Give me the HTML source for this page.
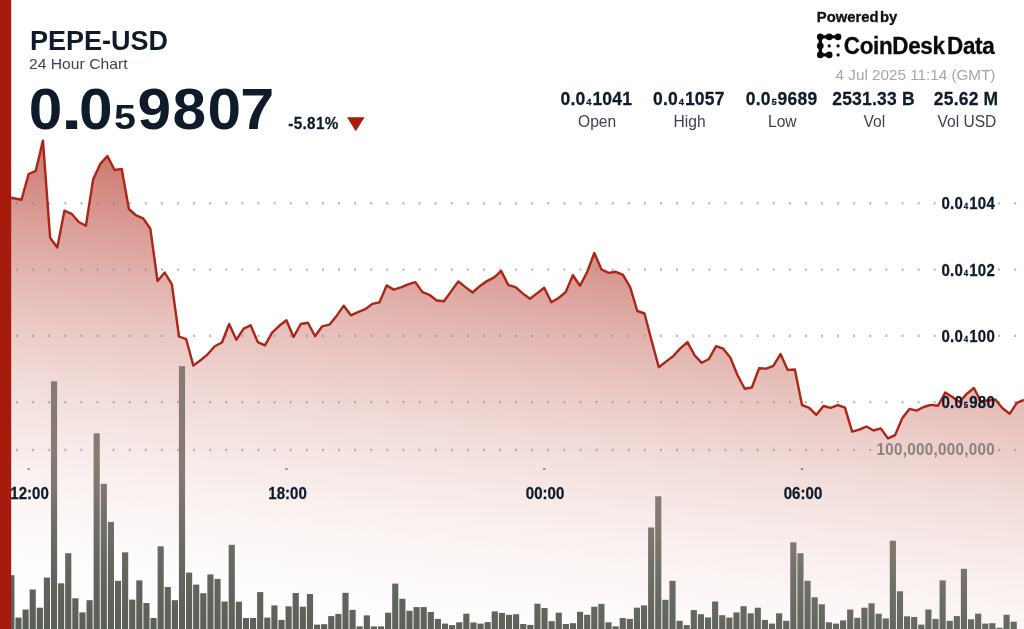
<!DOCTYPE html>
<html><head><meta charset="utf-8">
<style>
html,body{margin:0;padding:0;background:#fff;}
body{width:1024px;height:629px;overflow:hidden;position:relative;font-family:"Liberation Sans",sans-serif;color:#0f1b2b;}
.t{position:absolute;white-space:nowrap;line-height:1;}
.b{font-weight:bold;}
svg{position:absolute;left:0;top:0;}
.c{transform:translateX(-50%);text-align:center;}
.r{transform:translateX(-100%);text-align:right;}
sub{font-size:0.5em;vertical-align:baseline;position:relative;top:0;line-height:0;}
</style></head><body>
<svg width="1024" height="629" viewBox="0 0 1024 629">
<defs>
<linearGradient id="ag" gradientUnits="userSpaceOnUse" x1="0" y1="140" x2="-56.9" y2="622.3">
<stop offset="0" stop-color="#a81c0c" stop-opacity="0.6"/>
<stop offset="1" stop-color="#ffffff" stop-opacity="0"/>
</linearGradient>
<linearGradient id="bg" gradientUnits="userSpaceOnUse" x1="0" y1="360" x2="-22.4" y2="627.1">
<stop offset="0" stop-color="rgb(137,121,116)"/>
<stop offset="0.335" stop-color="rgb(134,122,116)"/>
<stop offset="0.446" stop-color="rgb(127,118,112)"/>
<stop offset="0.558" stop-color="rgb(113,111,105)"/>
<stop offset="0.706" stop-color="rgb(101,103,97)"/>
<stop offset="0.855" stop-color="rgb(94,98,91)"/>
<stop offset="1" stop-color="rgb(89,94,86)"/>
</linearGradient>
</defs>
<path d="M11.00,197.80 L21.48,199.70 L28.64,174.00 L35.80,170.80 L42.96,140.60 L50.12,237.70 L57.28,247.50 L64.44,210.70 L71.60,213.80 L78.77,222.00 L85.93,225.80 L93.09,179.60 L100.25,163.90 L107.41,156.00 L114.57,170.00 L121.73,169.00 L128.89,209.00 L136.05,215.30 L143.21,218.40 L150.37,228.80 L157.53,281.00 L164.70,272.50 L171.86,284.30 L179.02,336.50 L186.18,339.20 L193.34,365.60 L200.50,360.30 L207.66,354.30 L214.82,346.30 L221.98,342.50 L229.14,324.00 L236.30,339.80 L243.46,328.90 L250.62,325.20 L257.79,342.10 L264.95,345.30 L272.11,332.70 L279.27,325.80 L286.43,320.20 L293.59,337.00 L300.75,324.00 L307.91,322.80 L315.07,336.30 L322.23,326.30 L329.39,324.70 L336.55,315.90 L343.72,305.80 L350.88,315.30 L358.04,312.10 L365.20,309.20 L372.36,303.90 L379.52,302.30 L386.68,285.40 L393.84,289.70 L401.00,287.40 L408.16,284.30 L415.32,282.10 L422.48,292.10 L429.64,295.00 L436.81,300.50 L443.97,301.30 L451.13,291.40 L458.29,281.40 L465.45,287.10 L472.61,292.50 L479.77,286.20 L486.93,281.10 L494.09,277.40 L501.25,271.00 L508.41,285.20 L515.57,287.10 L522.74,293.40 L529.90,298.80 L537.06,293.40 L544.22,287.70 L551.38,302.30 L558.54,298.00 L565.70,292.10 L572.86,275.20 L580.02,285.70 L587.18,272.00 L594.34,253.00 L601.50,269.50 L608.66,272.90 L615.83,271.80 L622.99,274.90 L630.15,287.10 L637.31,311.00 L644.47,313.50 L651.63,340.70 L658.79,367.20 L665.95,361.60 L673.11,356.30 L680.27,348.40 L687.43,342.10 L694.59,355.30 L701.76,362.80 L708.92,359.00 L716.08,346.20 L723.24,348.70 L730.40,357.70 L737.56,375.20 L744.72,388.70 L751.88,387.50 L759.04,368.30 L766.20,368.60 L773.36,365.80 L780.52,354.00 L787.68,369.90 L794.85,369.50 L802.01,405.10 L809.17,407.80 L816.33,414.80 L823.49,406.00 L830.65,407.80 L837.81,405.10 L844.97,407.70 L852.13,431.60 L859.29,429.60 L866.45,426.50 L873.61,430.50 L880.78,428.40 L887.94,438.40 L895.10,435.10 L902.26,418.30 L909.42,408.90 L916.58,410.60 L923.74,407.00 L930.90,404.90 L938.06,405.80 L945.22,392.50 L952.38,397.00 L959.54,402.00 L966.70,393.90 L973.87,388.00 L981.03,401.50 L988.19,400.50 L995.35,399.50 L1002.51,408.30 L1009.67,413.80 L1016.83,402.90 L1024.00,399.90 L1024,629 L11,629 Z" fill="url(#ag)"/>
<g fill="url(#bg)"><rect x="8.31" y="575.2" width="6.15" height="54.8"/><rect x="15.42" y="617.6" width="6.15" height="12.4"/><rect x="22.53" y="609.5" width="6.15" height="20.5"/><rect x="29.63" y="589.5" width="6.15" height="40.5"/><rect x="36.74" y="607.7" width="6.15" height="22.3"/><rect x="43.85" y="577.6" width="6.15" height="52.4"/><rect x="50.96" y="381.3" width="6.15" height="248.7"/><rect x="58.07" y="583.3" width="6.15" height="46.7"/><rect x="65.18" y="553.2" width="6.15" height="76.8"/><rect x="72.29" y="598.3" width="6.15" height="31.7"/><rect x="79.40" y="612.4" width="6.15" height="17.6"/><rect x="86.50" y="600.2" width="6.15" height="29.8"/><rect x="93.61" y="433.3" width="6.15" height="196.7"/><rect x="100.72" y="483.8" width="6.15" height="146.2"/><rect x="107.83" y="521.9" width="6.15" height="108.1"/><rect x="114.94" y="580.8" width="6.15" height="49.2"/><rect x="122.05" y="552.3" width="6.15" height="77.7"/><rect x="129.16" y="599.6" width="6.15" height="30.4"/><rect x="136.27" y="580.4" width="6.15" height="49.6"/><rect x="143.37" y="603.0" width="6.15" height="27.0"/><rect x="150.48" y="618.0" width="6.15" height="12.0"/><rect x="157.59" y="546.3" width="6.15" height="83.7"/><rect x="164.70" y="587.0" width="6.15" height="43.0"/><rect x="171.81" y="600.2" width="6.15" height="29.8"/><rect x="178.92" y="366.2" width="6.15" height="263.8"/><rect x="186.03" y="572.6" width="6.15" height="57.4"/><rect x="193.13" y="584.6" width="6.15" height="45.4"/><rect x="200.24" y="593.2" width="6.15" height="36.8"/><rect x="207.35" y="574.4" width="6.15" height="55.6"/><rect x="214.46" y="578.9" width="6.15" height="51.1"/><rect x="221.57" y="601.5" width="6.15" height="28.5"/><rect x="228.68" y="544.8" width="6.15" height="85.2"/><rect x="235.79" y="601.7" width="6.15" height="28.3"/><rect x="242.90" y="618.0" width="6.15" height="12.0"/><rect x="250.00" y="618.0" width="6.15" height="12.0"/><rect x="257.11" y="592.1" width="6.15" height="37.9"/><rect x="264.22" y="617.6" width="6.15" height="12.4"/><rect x="271.33" y="605.4" width="6.15" height="24.6"/><rect x="278.44" y="619.9" width="6.15" height="10.1"/><rect x="285.55" y="606.3" width="6.15" height="23.7"/><rect x="292.66" y="593.0" width="6.15" height="37.0"/><rect x="299.77" y="606.7" width="6.15" height="23.3"/><rect x="306.87" y="594.0" width="6.15" height="36.0"/><rect x="313.98" y="624.6" width="6.15" height="5.4"/><rect x="321.09" y="624.2" width="6.15" height="5.8"/><rect x="328.20" y="616.1" width="6.15" height="13.9"/><rect x="335.31" y="613.9" width="6.15" height="16.1"/><rect x="342.42" y="592.8" width="6.15" height="37.2"/><rect x="349.53" y="609.9" width="6.15" height="20.1"/><rect x="356.63" y="626.4" width="6.15" height="3.6"/><rect x="363.74" y="615.4" width="6.15" height="14.6"/><rect x="370.85" y="626.4" width="6.15" height="3.6"/><rect x="377.96" y="626.4" width="6.15" height="3.6"/><rect x="385.07" y="612.7" width="6.15" height="17.3"/><rect x="392.18" y="583.6" width="6.15" height="46.4"/><rect x="399.29" y="598.8" width="6.15" height="31.2"/><rect x="406.40" y="610.8" width="6.15" height="19.2"/><rect x="413.50" y="607.1" width="6.15" height="22.9"/><rect x="420.61" y="607.1" width="6.15" height="22.9"/><rect x="427.72" y="612.0" width="6.15" height="18.0"/><rect x="434.83" y="618.9" width="6.15" height="11.1"/><rect x="441.94" y="623.6" width="6.15" height="6.4"/><rect x="449.05" y="625.1" width="6.15" height="4.9"/><rect x="456.16" y="622.3" width="6.15" height="7.7"/><rect x="463.27" y="613.7" width="6.15" height="16.3"/><rect x="470.37" y="622.5" width="6.15" height="7.5"/><rect x="477.48" y="623.6" width="6.15" height="6.4"/><rect x="484.59" y="622.1" width="6.15" height="7.9"/><rect x="491.70" y="611.4" width="6.15" height="18.6"/><rect x="498.81" y="612.9" width="6.15" height="17.1"/><rect x="505.92" y="614.8" width="6.15" height="15.2"/><rect x="513.03" y="614.2" width="6.15" height="15.8"/><rect x="520.14" y="624.0" width="6.15" height="6.0"/><rect x="527.24" y="624.9" width="6.15" height="5.1"/><rect x="534.35" y="603.7" width="6.15" height="26.3"/><rect x="541.46" y="608.0" width="6.15" height="22.0"/><rect x="548.57" y="621.2" width="6.15" height="8.8"/><rect x="555.68" y="612.7" width="6.15" height="17.3"/><rect x="562.79" y="624.0" width="6.15" height="6.0"/><rect x="569.90" y="623.2" width="6.15" height="6.8"/><rect x="577.00" y="611.8" width="6.15" height="18.2"/><rect x="584.11" y="614.8" width="6.15" height="15.2"/><rect x="591.22" y="606.7" width="6.15" height="23.3"/><rect x="598.33" y="603.9" width="6.15" height="26.1"/><rect x="605.44" y="622.3" width="6.15" height="7.7"/><rect x="612.55" y="626.4" width="6.15" height="3.6"/><rect x="619.66" y="618.0" width="6.15" height="12.0"/><rect x="626.77" y="618.9" width="6.15" height="11.1"/><rect x="633.87" y="607.7" width="6.15" height="22.3"/><rect x="640.98" y="605.4" width="6.15" height="24.6"/><rect x="648.09" y="527.5" width="6.15" height="102.5"/><rect x="655.20" y="496.3" width="6.15" height="133.7"/><rect x="662.31" y="599.8" width="6.15" height="30.2"/><rect x="669.42" y="580.8" width="6.15" height="49.2"/><rect x="676.53" y="620.8" width="6.15" height="9.2"/><rect x="683.64" y="625.1" width="6.15" height="4.9"/><rect x="690.74" y="610.1" width="6.15" height="19.9"/><rect x="697.85" y="614.2" width="6.15" height="15.8"/><rect x="704.96" y="617.4" width="6.15" height="12.6"/><rect x="712.07" y="601.5" width="6.15" height="28.5"/><rect x="719.18" y="615.2" width="6.15" height="14.8"/><rect x="726.29" y="617.6" width="6.15" height="12.4"/><rect x="733.40" y="612.4" width="6.15" height="17.6"/><rect x="740.50" y="606.2" width="6.15" height="23.8"/><rect x="747.61" y="613.3" width="6.15" height="16.7"/><rect x="754.72" y="607.7" width="6.15" height="22.3"/><rect x="761.83" y="619.9" width="6.15" height="10.1"/><rect x="768.94" y="623.6" width="6.15" height="6.4"/><rect x="776.05" y="613.3" width="6.15" height="16.7"/><rect x="783.16" y="620.8" width="6.15" height="9.2"/><rect x="790.27" y="542.3" width="6.15" height="87.7"/><rect x="797.37" y="553.2" width="6.15" height="76.8"/><rect x="804.48" y="580.8" width="6.15" height="49.2"/><rect x="811.59" y="597.3" width="6.15" height="32.7"/><rect x="818.70" y="604.3" width="6.15" height="25.7"/><rect x="825.81" y="622.3" width="6.15" height="7.7"/><rect x="832.92" y="623.6" width="6.15" height="6.4"/><rect x="840.03" y="620.4" width="6.15" height="9.6"/><rect x="847.14" y="609.5" width="6.15" height="20.5"/><rect x="854.24" y="617.8" width="6.15" height="12.2"/><rect x="861.35" y="607.7" width="6.15" height="22.3"/><rect x="868.46" y="603.3" width="6.15" height="26.7"/><rect x="875.57" y="613.7" width="6.15" height="16.3"/><rect x="882.68" y="618.4" width="6.15" height="11.6"/><rect x="889.79" y="540.7" width="6.15" height="89.3"/><rect x="896.90" y="591.3" width="6.15" height="38.7"/><rect x="904.00" y="616.3" width="6.15" height="13.7"/><rect x="911.11" y="617.0" width="6.15" height="13.0"/><rect x="918.22" y="624.6" width="6.15" height="5.4"/><rect x="925.33" y="609.5" width="6.15" height="20.5"/><rect x="932.44" y="618.9" width="6.15" height="11.1"/><rect x="939.55" y="580.4" width="6.15" height="49.6"/><rect x="946.66" y="620.8" width="6.15" height="9.2"/><rect x="953.77" y="616.1" width="6.15" height="13.9"/><rect x="960.87" y="568.8" width="6.15" height="61.2"/><rect x="967.98" y="619.3" width="6.15" height="10.7"/><rect x="975.09" y="613.7" width="6.15" height="16.3"/><rect x="982.20" y="623.6" width="6.15" height="6.4"/><rect x="989.31" y="623.2" width="6.15" height="6.8"/><rect x="996.42" y="627.7" width="6.15" height="2.3"/><rect x="1003.53" y="614.8" width="6.15" height="15.2"/><rect x="1010.64" y="621.7" width="6.15" height="8.3"/></g>
<g fill="#8a8a8a" fill-opacity="0.62"><rect x="16.05" y="202.10" width="1.9" height="2.4"/><rect x="32.15" y="202.10" width="1.9" height="2.4"/><rect x="48.25" y="202.10" width="1.9" height="2.4"/><rect x="64.35" y="202.10" width="1.9" height="2.4"/><rect x="80.45" y="202.10" width="1.9" height="2.4"/><rect x="96.55" y="202.10" width="1.9" height="2.4"/><rect x="112.65" y="202.10" width="1.9" height="2.4"/><rect x="128.75" y="202.10" width="1.9" height="2.4"/><rect x="144.85" y="202.10" width="1.9" height="2.4"/><rect x="160.95" y="202.10" width="1.9" height="2.4"/><rect x="177.05" y="202.10" width="1.9" height="2.4"/><rect x="193.15" y="202.10" width="1.9" height="2.4"/><rect x="209.25" y="202.10" width="1.9" height="2.4"/><rect x="225.35" y="202.10" width="1.9" height="2.4"/><rect x="241.45" y="202.10" width="1.9" height="2.4"/><rect x="257.55" y="202.10" width="1.9" height="2.4"/><rect x="273.65" y="202.10" width="1.9" height="2.4"/><rect x="289.75" y="202.10" width="1.9" height="2.4"/><rect x="305.85" y="202.10" width="1.9" height="2.4"/><rect x="321.95" y="202.10" width="1.9" height="2.4"/><rect x="338.05" y="202.10" width="1.9" height="2.4"/><rect x="354.15" y="202.10" width="1.9" height="2.4"/><rect x="370.25" y="202.10" width="1.9" height="2.4"/><rect x="386.35" y="202.10" width="1.9" height="2.4"/><rect x="402.45" y="202.10" width="1.9" height="2.4"/><rect x="418.55" y="202.10" width="1.9" height="2.4"/><rect x="434.65" y="202.10" width="1.9" height="2.4"/><rect x="450.75" y="202.10" width="1.9" height="2.4"/><rect x="466.85" y="202.10" width="1.9" height="2.4"/><rect x="482.95" y="202.10" width="1.9" height="2.4"/><rect x="499.05" y="202.10" width="1.9" height="2.4"/><rect x="515.15" y="202.10" width="1.9" height="2.4"/><rect x="531.25" y="202.10" width="1.9" height="2.4"/><rect x="547.35" y="202.10" width="1.9" height="2.4"/><rect x="563.45" y="202.10" width="1.9" height="2.4"/><rect x="579.55" y="202.10" width="1.9" height="2.4"/><rect x="595.65" y="202.10" width="1.9" height="2.4"/><rect x="611.75" y="202.10" width="1.9" height="2.4"/><rect x="627.85" y="202.10" width="1.9" height="2.4"/><rect x="643.95" y="202.10" width="1.9" height="2.4"/><rect x="660.05" y="202.10" width="1.9" height="2.4"/><rect x="676.15" y="202.10" width="1.9" height="2.4"/><rect x="692.25" y="202.10" width="1.9" height="2.4"/><rect x="708.35" y="202.10" width="1.9" height="2.4"/><rect x="724.45" y="202.10" width="1.9" height="2.4"/><rect x="740.55" y="202.10" width="1.9" height="2.4"/><rect x="756.65" y="202.10" width="1.9" height="2.4"/><rect x="772.75" y="202.10" width="1.9" height="2.4"/><rect x="788.85" y="202.10" width="1.9" height="2.4"/><rect x="804.95" y="202.10" width="1.9" height="2.4"/><rect x="821.05" y="202.10" width="1.9" height="2.4"/><rect x="837.15" y="202.10" width="1.9" height="2.4"/><rect x="853.25" y="202.10" width="1.9" height="2.4"/><rect x="869.35" y="202.10" width="1.9" height="2.4"/><rect x="885.45" y="202.10" width="1.9" height="2.4"/><rect x="901.55" y="202.10" width="1.9" height="2.4"/><rect x="917.65" y="202.10" width="1.9" height="2.4"/><rect x="933.75" y="202.10" width="1.9" height="2.4"/><rect x="998.15" y="202.10" width="1.9" height="2.4"/><rect x="1014.25" y="202.10" width="1.9" height="2.4"/><rect x="16.05" y="268.40" width="1.9" height="2.4"/><rect x="32.15" y="268.40" width="1.9" height="2.4"/><rect x="48.25" y="268.40" width="1.9" height="2.4"/><rect x="64.35" y="268.40" width="1.9" height="2.4"/><rect x="80.45" y="268.40" width="1.9" height="2.4"/><rect x="96.55" y="268.40" width="1.9" height="2.4"/><rect x="112.65" y="268.40" width="1.9" height="2.4"/><rect x="128.75" y="268.40" width="1.9" height="2.4"/><rect x="144.85" y="268.40" width="1.9" height="2.4"/><rect x="160.95" y="268.40" width="1.9" height="2.4"/><rect x="177.05" y="268.40" width="1.9" height="2.4"/><rect x="193.15" y="268.40" width="1.9" height="2.4"/><rect x="209.25" y="268.40" width="1.9" height="2.4"/><rect x="225.35" y="268.40" width="1.9" height="2.4"/><rect x="241.45" y="268.40" width="1.9" height="2.4"/><rect x="257.55" y="268.40" width="1.9" height="2.4"/><rect x="273.65" y="268.40" width="1.9" height="2.4"/><rect x="289.75" y="268.40" width="1.9" height="2.4"/><rect x="305.85" y="268.40" width="1.9" height="2.4"/><rect x="321.95" y="268.40" width="1.9" height="2.4"/><rect x="338.05" y="268.40" width="1.9" height="2.4"/><rect x="354.15" y="268.40" width="1.9" height="2.4"/><rect x="370.25" y="268.40" width="1.9" height="2.4"/><rect x="386.35" y="268.40" width="1.9" height="2.4"/><rect x="402.45" y="268.40" width="1.9" height="2.4"/><rect x="418.55" y="268.40" width="1.9" height="2.4"/><rect x="434.65" y="268.40" width="1.9" height="2.4"/><rect x="450.75" y="268.40" width="1.9" height="2.4"/><rect x="466.85" y="268.40" width="1.9" height="2.4"/><rect x="482.95" y="268.40" width="1.9" height="2.4"/><rect x="499.05" y="268.40" width="1.9" height="2.4"/><rect x="515.15" y="268.40" width="1.9" height="2.4"/><rect x="531.25" y="268.40" width="1.9" height="2.4"/><rect x="547.35" y="268.40" width="1.9" height="2.4"/><rect x="563.45" y="268.40" width="1.9" height="2.4"/><rect x="579.55" y="268.40" width="1.9" height="2.4"/><rect x="595.65" y="268.40" width="1.9" height="2.4"/><rect x="611.75" y="268.40" width="1.9" height="2.4"/><rect x="627.85" y="268.40" width="1.9" height="2.4"/><rect x="643.95" y="268.40" width="1.9" height="2.4"/><rect x="660.05" y="268.40" width="1.9" height="2.4"/><rect x="676.15" y="268.40" width="1.9" height="2.4"/><rect x="692.25" y="268.40" width="1.9" height="2.4"/><rect x="708.35" y="268.40" width="1.9" height="2.4"/><rect x="724.45" y="268.40" width="1.9" height="2.4"/><rect x="740.55" y="268.40" width="1.9" height="2.4"/><rect x="756.65" y="268.40" width="1.9" height="2.4"/><rect x="772.75" y="268.40" width="1.9" height="2.4"/><rect x="788.85" y="268.40" width="1.9" height="2.4"/><rect x="804.95" y="268.40" width="1.9" height="2.4"/><rect x="821.05" y="268.40" width="1.9" height="2.4"/><rect x="837.15" y="268.40" width="1.9" height="2.4"/><rect x="853.25" y="268.40" width="1.9" height="2.4"/><rect x="869.35" y="268.40" width="1.9" height="2.4"/><rect x="885.45" y="268.40" width="1.9" height="2.4"/><rect x="901.55" y="268.40" width="1.9" height="2.4"/><rect x="917.65" y="268.40" width="1.9" height="2.4"/><rect x="933.75" y="268.40" width="1.9" height="2.4"/><rect x="998.15" y="268.40" width="1.9" height="2.4"/><rect x="1014.25" y="268.40" width="1.9" height="2.4"/><rect x="16.05" y="334.70" width="1.9" height="2.4"/><rect x="32.15" y="334.70" width="1.9" height="2.4"/><rect x="48.25" y="334.70" width="1.9" height="2.4"/><rect x="64.35" y="334.70" width="1.9" height="2.4"/><rect x="80.45" y="334.70" width="1.9" height="2.4"/><rect x="96.55" y="334.70" width="1.9" height="2.4"/><rect x="112.65" y="334.70" width="1.9" height="2.4"/><rect x="128.75" y="334.70" width="1.9" height="2.4"/><rect x="144.85" y="334.70" width="1.9" height="2.4"/><rect x="160.95" y="334.70" width="1.9" height="2.4"/><rect x="177.05" y="334.70" width="1.9" height="2.4"/><rect x="193.15" y="334.70" width="1.9" height="2.4"/><rect x="209.25" y="334.70" width="1.9" height="2.4"/><rect x="225.35" y="334.70" width="1.9" height="2.4"/><rect x="241.45" y="334.70" width="1.9" height="2.4"/><rect x="257.55" y="334.70" width="1.9" height="2.4"/><rect x="273.65" y="334.70" width="1.9" height="2.4"/><rect x="289.75" y="334.70" width="1.9" height="2.4"/><rect x="305.85" y="334.70" width="1.9" height="2.4"/><rect x="321.95" y="334.70" width="1.9" height="2.4"/><rect x="338.05" y="334.70" width="1.9" height="2.4"/><rect x="354.15" y="334.70" width="1.9" height="2.4"/><rect x="370.25" y="334.70" width="1.9" height="2.4"/><rect x="386.35" y="334.70" width="1.9" height="2.4"/><rect x="402.45" y="334.70" width="1.9" height="2.4"/><rect x="418.55" y="334.70" width="1.9" height="2.4"/><rect x="434.65" y="334.70" width="1.9" height="2.4"/><rect x="450.75" y="334.70" width="1.9" height="2.4"/><rect x="466.85" y="334.70" width="1.9" height="2.4"/><rect x="482.95" y="334.70" width="1.9" height="2.4"/><rect x="499.05" y="334.70" width="1.9" height="2.4"/><rect x="515.15" y="334.70" width="1.9" height="2.4"/><rect x="531.25" y="334.70" width="1.9" height="2.4"/><rect x="547.35" y="334.70" width="1.9" height="2.4"/><rect x="563.45" y="334.70" width="1.9" height="2.4"/><rect x="579.55" y="334.70" width="1.9" height="2.4"/><rect x="595.65" y="334.70" width="1.9" height="2.4"/><rect x="611.75" y="334.70" width="1.9" height="2.4"/><rect x="627.85" y="334.70" width="1.9" height="2.4"/><rect x="643.95" y="334.70" width="1.9" height="2.4"/><rect x="660.05" y="334.70" width="1.9" height="2.4"/><rect x="676.15" y="334.70" width="1.9" height="2.4"/><rect x="692.25" y="334.70" width="1.9" height="2.4"/><rect x="708.35" y="334.70" width="1.9" height="2.4"/><rect x="724.45" y="334.70" width="1.9" height="2.4"/><rect x="740.55" y="334.70" width="1.9" height="2.4"/><rect x="756.65" y="334.70" width="1.9" height="2.4"/><rect x="772.75" y="334.70" width="1.9" height="2.4"/><rect x="788.85" y="334.70" width="1.9" height="2.4"/><rect x="804.95" y="334.70" width="1.9" height="2.4"/><rect x="821.05" y="334.70" width="1.9" height="2.4"/><rect x="837.15" y="334.70" width="1.9" height="2.4"/><rect x="853.25" y="334.70" width="1.9" height="2.4"/><rect x="869.35" y="334.70" width="1.9" height="2.4"/><rect x="885.45" y="334.70" width="1.9" height="2.4"/><rect x="901.55" y="334.70" width="1.9" height="2.4"/><rect x="917.65" y="334.70" width="1.9" height="2.4"/><rect x="933.75" y="334.70" width="1.9" height="2.4"/><rect x="998.15" y="334.70" width="1.9" height="2.4"/><rect x="1014.25" y="334.70" width="1.9" height="2.4"/><rect x="16.05" y="401.00" width="1.9" height="2.4"/><rect x="32.15" y="401.00" width="1.9" height="2.4"/><rect x="48.25" y="401.00" width="1.9" height="2.4"/><rect x="64.35" y="401.00" width="1.9" height="2.4"/><rect x="80.45" y="401.00" width="1.9" height="2.4"/><rect x="96.55" y="401.00" width="1.9" height="2.4"/><rect x="112.65" y="401.00" width="1.9" height="2.4"/><rect x="128.75" y="401.00" width="1.9" height="2.4"/><rect x="144.85" y="401.00" width="1.9" height="2.4"/><rect x="160.95" y="401.00" width="1.9" height="2.4"/><rect x="177.05" y="401.00" width="1.9" height="2.4"/><rect x="193.15" y="401.00" width="1.9" height="2.4"/><rect x="209.25" y="401.00" width="1.9" height="2.4"/><rect x="225.35" y="401.00" width="1.9" height="2.4"/><rect x="241.45" y="401.00" width="1.9" height="2.4"/><rect x="257.55" y="401.00" width="1.9" height="2.4"/><rect x="273.65" y="401.00" width="1.9" height="2.4"/><rect x="289.75" y="401.00" width="1.9" height="2.4"/><rect x="305.85" y="401.00" width="1.9" height="2.4"/><rect x="321.95" y="401.00" width="1.9" height="2.4"/><rect x="338.05" y="401.00" width="1.9" height="2.4"/><rect x="354.15" y="401.00" width="1.9" height="2.4"/><rect x="370.25" y="401.00" width="1.9" height="2.4"/><rect x="386.35" y="401.00" width="1.9" height="2.4"/><rect x="402.45" y="401.00" width="1.9" height="2.4"/><rect x="418.55" y="401.00" width="1.9" height="2.4"/><rect x="434.65" y="401.00" width="1.9" height="2.4"/><rect x="450.75" y="401.00" width="1.9" height="2.4"/><rect x="466.85" y="401.00" width="1.9" height="2.4"/><rect x="482.95" y="401.00" width="1.9" height="2.4"/><rect x="499.05" y="401.00" width="1.9" height="2.4"/><rect x="515.15" y="401.00" width="1.9" height="2.4"/><rect x="531.25" y="401.00" width="1.9" height="2.4"/><rect x="547.35" y="401.00" width="1.9" height="2.4"/><rect x="563.45" y="401.00" width="1.9" height="2.4"/><rect x="579.55" y="401.00" width="1.9" height="2.4"/><rect x="595.65" y="401.00" width="1.9" height="2.4"/><rect x="611.75" y="401.00" width="1.9" height="2.4"/><rect x="627.85" y="401.00" width="1.9" height="2.4"/><rect x="643.95" y="401.00" width="1.9" height="2.4"/><rect x="660.05" y="401.00" width="1.9" height="2.4"/><rect x="676.15" y="401.00" width="1.9" height="2.4"/><rect x="692.25" y="401.00" width="1.9" height="2.4"/><rect x="708.35" y="401.00" width="1.9" height="2.4"/><rect x="724.45" y="401.00" width="1.9" height="2.4"/><rect x="740.55" y="401.00" width="1.9" height="2.4"/><rect x="756.65" y="401.00" width="1.9" height="2.4"/><rect x="772.75" y="401.00" width="1.9" height="2.4"/><rect x="788.85" y="401.00" width="1.9" height="2.4"/><rect x="804.95" y="401.00" width="1.9" height="2.4"/><rect x="821.05" y="401.00" width="1.9" height="2.4"/><rect x="837.15" y="401.00" width="1.9" height="2.4"/><rect x="853.25" y="401.00" width="1.9" height="2.4"/><rect x="869.35" y="401.00" width="1.9" height="2.4"/><rect x="885.45" y="401.00" width="1.9" height="2.4"/><rect x="901.55" y="401.00" width="1.9" height="2.4"/><rect x="917.65" y="401.00" width="1.9" height="2.4"/><rect x="933.75" y="401.00" width="1.9" height="2.4"/><rect x="998.15" y="401.00" width="1.9" height="2.4"/><rect x="1014.25" y="401.00" width="1.9" height="2.4"/><rect x="16.05" y="448.80" width="1.9" height="2.4"/><rect x="32.15" y="448.80" width="1.9" height="2.4"/><rect x="48.25" y="448.80" width="1.9" height="2.4"/><rect x="64.35" y="448.80" width="1.9" height="2.4"/><rect x="80.45" y="448.80" width="1.9" height="2.4"/><rect x="96.55" y="448.80" width="1.9" height="2.4"/><rect x="112.65" y="448.80" width="1.9" height="2.4"/><rect x="128.75" y="448.80" width="1.9" height="2.4"/><rect x="144.85" y="448.80" width="1.9" height="2.4"/><rect x="160.95" y="448.80" width="1.9" height="2.4"/><rect x="177.05" y="448.80" width="1.9" height="2.4"/><rect x="193.15" y="448.80" width="1.9" height="2.4"/><rect x="209.25" y="448.80" width="1.9" height="2.4"/><rect x="225.35" y="448.80" width="1.9" height="2.4"/><rect x="241.45" y="448.80" width="1.9" height="2.4"/><rect x="257.55" y="448.80" width="1.9" height="2.4"/><rect x="273.65" y="448.80" width="1.9" height="2.4"/><rect x="289.75" y="448.80" width="1.9" height="2.4"/><rect x="305.85" y="448.80" width="1.9" height="2.4"/><rect x="321.95" y="448.80" width="1.9" height="2.4"/><rect x="338.05" y="448.80" width="1.9" height="2.4"/><rect x="354.15" y="448.80" width="1.9" height="2.4"/><rect x="370.25" y="448.80" width="1.9" height="2.4"/><rect x="386.35" y="448.80" width="1.9" height="2.4"/><rect x="402.45" y="448.80" width="1.9" height="2.4"/><rect x="418.55" y="448.80" width="1.9" height="2.4"/><rect x="434.65" y="448.80" width="1.9" height="2.4"/><rect x="450.75" y="448.80" width="1.9" height="2.4"/><rect x="466.85" y="448.80" width="1.9" height="2.4"/><rect x="482.95" y="448.80" width="1.9" height="2.4"/><rect x="499.05" y="448.80" width="1.9" height="2.4"/><rect x="515.15" y="448.80" width="1.9" height="2.4"/><rect x="531.25" y="448.80" width="1.9" height="2.4"/><rect x="547.35" y="448.80" width="1.9" height="2.4"/><rect x="563.45" y="448.80" width="1.9" height="2.4"/><rect x="579.55" y="448.80" width="1.9" height="2.4"/><rect x="595.65" y="448.80" width="1.9" height="2.4"/><rect x="611.75" y="448.80" width="1.9" height="2.4"/><rect x="627.85" y="448.80" width="1.9" height="2.4"/><rect x="643.95" y="448.80" width="1.9" height="2.4"/><rect x="660.05" y="448.80" width="1.9" height="2.4"/><rect x="676.15" y="448.80" width="1.9" height="2.4"/><rect x="692.25" y="448.80" width="1.9" height="2.4"/><rect x="708.35" y="448.80" width="1.9" height="2.4"/><rect x="724.45" y="448.80" width="1.9" height="2.4"/><rect x="740.55" y="448.80" width="1.9" height="2.4"/><rect x="756.65" y="448.80" width="1.9" height="2.4"/><rect x="772.75" y="448.80" width="1.9" height="2.4"/><rect x="788.85" y="448.80" width="1.9" height="2.4"/><rect x="804.95" y="448.80" width="1.9" height="2.4"/><rect x="821.05" y="448.80" width="1.9" height="2.4"/><rect x="837.15" y="448.80" width="1.9" height="2.4"/><rect x="853.25" y="448.80" width="1.9" height="2.4"/><rect x="869.35" y="448.80" width="1.9" height="2.4"/><rect x="998.15" y="448.80" width="1.9" height="2.4"/><rect x="1014.25" y="448.80" width="1.9" height="2.4"/></g>
<path d="M11.00,197.80 L21.48,199.70 L28.64,174.00 L35.80,170.80 L42.96,140.60 L50.12,237.70 L57.28,247.50 L64.44,210.70 L71.60,213.80 L78.77,222.00 L85.93,225.80 L93.09,179.60 L100.25,163.90 L107.41,156.00 L114.57,170.00 L121.73,169.00 L128.89,209.00 L136.05,215.30 L143.21,218.40 L150.37,228.80 L157.53,281.00 L164.70,272.50 L171.86,284.30 L179.02,336.50 L186.18,339.20 L193.34,365.60 L200.50,360.30 L207.66,354.30 L214.82,346.30 L221.98,342.50 L229.14,324.00 L236.30,339.80 L243.46,328.90 L250.62,325.20 L257.79,342.10 L264.95,345.30 L272.11,332.70 L279.27,325.80 L286.43,320.20 L293.59,337.00 L300.75,324.00 L307.91,322.80 L315.07,336.30 L322.23,326.30 L329.39,324.70 L336.55,315.90 L343.72,305.80 L350.88,315.30 L358.04,312.10 L365.20,309.20 L372.36,303.90 L379.52,302.30 L386.68,285.40 L393.84,289.70 L401.00,287.40 L408.16,284.30 L415.32,282.10 L422.48,292.10 L429.64,295.00 L436.81,300.50 L443.97,301.30 L451.13,291.40 L458.29,281.40 L465.45,287.10 L472.61,292.50 L479.77,286.20 L486.93,281.10 L494.09,277.40 L501.25,271.00 L508.41,285.20 L515.57,287.10 L522.74,293.40 L529.90,298.80 L537.06,293.40 L544.22,287.70 L551.38,302.30 L558.54,298.00 L565.70,292.10 L572.86,275.20 L580.02,285.70 L587.18,272.00 L594.34,253.00 L601.50,269.50 L608.66,272.90 L615.83,271.80 L622.99,274.90 L630.15,287.10 L637.31,311.00 L644.47,313.50 L651.63,340.70 L658.79,367.20 L665.95,361.60 L673.11,356.30 L680.27,348.40 L687.43,342.10 L694.59,355.30 L701.76,362.80 L708.92,359.00 L716.08,346.20 L723.24,348.70 L730.40,357.70 L737.56,375.20 L744.72,388.70 L751.88,387.50 L759.04,368.30 L766.20,368.60 L773.36,365.80 L780.52,354.00 L787.68,369.90 L794.85,369.50 L802.01,405.10 L809.17,407.80 L816.33,414.80 L823.49,406.00 L830.65,407.80 L837.81,405.10 L844.97,407.70 L852.13,431.60 L859.29,429.60 L866.45,426.50 L873.61,430.50 L880.78,428.40 L887.94,438.40 L895.10,435.10 L902.26,418.30 L909.42,408.90 L916.58,410.60 L923.74,407.00 L930.90,404.90 L938.06,405.80 L945.22,392.50 L952.38,397.00 L959.54,402.00 L966.70,393.90 L973.87,388.00 L981.03,401.50 L988.19,400.50 L995.35,399.50 L1002.51,408.30 L1009.67,413.80 L1016.83,402.90 L1024.00,399.90" fill="none" stroke="#ac2517" stroke-width="2.4" stroke-linejoin="round"/>
<g fill="#525c68"><rect x="27.54" y="468.4" width="2.2" height="1.3"/><rect x="285.33" y="468.4" width="2.2" height="1.3"/><rect x="543.12" y="468.4" width="2.2" height="1.3"/><rect x="800.91" y="468.4" width="2.2" height="1.3"/></g>
<rect x="0" y="0" width="11.2" height="629" fill="#a61b0b"/>
<polygon points="347,117.2 364.6,117.2 355.8,131.2" fill="#a81c0c"/>
</svg>
<svg width="1024" height="629" viewBox="0 0 1024 629" font-family="Liberation Sans, sans-serif" style="will-change:transform"><g stroke="#0a0a0a" stroke-width="3.4" stroke-linecap="round" fill="none"><path d="M838.1,36.9 L820.3,36.9 L820.3,54.9 L829.2,54.9"/></g><g fill="#0a0a0a"><circle cx="820.3" cy="36.9" r="3.3"/><circle cx="829.2" cy="36.9" r="3.3"/><circle cx="838.1" cy="36.9" r="3.3"/><circle cx="820.3" cy="45.9" r="3.3"/><circle cx="820.3" cy="54.9" r="3.3"/><circle cx="829.2" cy="54.9" r="3.3"/><circle cx="829.2" cy="45.9" r="1.6"/><circle cx="838.1" cy="45.9" r="1.6"/><circle cx="838.1" cy="54.9" r="1.6"/></g><text transform="translate(30.0,49.5) scale(1.0,1)" font-size="27.0" font-weight="bold" fill="#0f1b2b" text-anchor="start" letter-spacing="0">PEPE-USD</text><text transform="translate(29.0,68.7) scale(1.09,1)" font-size="14.4" font-weight="normal" fill="#3b4450" text-anchor="start" >24 Hour Chart</text><g font-size="57.7" font-weight="bold" fill="#0f1b2b"><text transform="translate(28.7,128.6) scale(1.047,1)">0</text><text transform="translate(60.8,128.6) scale(1.36,1)">.</text><text transform="translate(78.9,128.6) scale(1.047,1)">0</text><text transform="translate(137.4,128.6) scale(1.047,1)">9</text><text transform="translate(172.4,128.6) scale(1.047,1)">8</text><text transform="translate(207.4,128.6) scale(1.047,1)">0</text><text transform="translate(240.2,128.6) scale(1.06,1)">7</text><text transform="translate(114.1,128.6) scale(1.15,1)" font-size="34.4">5</text></g><text transform="translate(288.3,128.8) scale(0.905,1)" font-size="16.8" font-weight="bold" fill="#0f1b2b" text-anchor="start" letter-spacing="0.4" stroke="#0f1b2b" stroke-width="0.25">-5.81%</text><text transform="translate(816.8,21.9) scale(1.0,1)" font-size="14.8" font-weight="bold" fill="#141414" text-anchor="start" word-spacing="-2.6" stroke="#141414" stroke-width="0.35">Powered by</text><text transform="translate(843.8,53.7) scale(0.972,1)" font-size="23.1" font-weight="bold" fill="#0a0a0a" text-anchor="start" letter-spacing="-0.35" stroke="#0a0a0a" stroke-width="0.3">CoinDesk<tspan dx="2.6">Data</tspan></text><text transform="translate(995.4,79.9) scale(1.067,1)" font-size="14.3" font-weight="normal" fill="#a6a6a6" text-anchor="end" >4 Jul 2025 11:14 (GMT)</text><text transform="translate(596.3,105.4) scale(0.962,1)" font-size="18.2" font-weight="bold" fill="#0f1b2b" text-anchor="middle" letter-spacing="0.2" stroke="#0f1b2b" stroke-width="0.25">0.0<tspan font-size="9.8" dx="0.8">4</tspan><tspan dx="0.8">1041</tspan></text><text transform="translate(597.0999999999999,127.2) scale(0.94,1)" font-size="16.6" font-weight="normal" fill="#3b4450" text-anchor="middle" >Open</text><text transform="translate(688.8,105.4) scale(0.962,1)" font-size="18.2" font-weight="bold" fill="#0f1b2b" text-anchor="middle" letter-spacing="0.2" stroke="#0f1b2b" stroke-width="0.25">0.0<tspan font-size="9.8" dx="0.8">4</tspan><tspan dx="0.8">1057</tspan></text><text transform="translate(689.5999999999999,127.2) scale(0.94,1)" font-size="16.6" font-weight="normal" fill="#3b4450" text-anchor="middle" >High</text><text transform="translate(781.5,105.4) scale(0.962,1)" font-size="18.2" font-weight="bold" fill="#0f1b2b" text-anchor="middle" letter-spacing="0.2" stroke="#0f1b2b" stroke-width="0.25">0.0<tspan font-size="9.8" dx="0.8">5</tspan><tspan dx="0.8">9689</tspan></text><text transform="translate(782.3,127.2) scale(0.94,1)" font-size="16.6" font-weight="normal" fill="#3b4450" text-anchor="middle" >Low</text><text transform="translate(873.5,105.4) scale(0.962,1)" font-size="18.2" font-weight="bold" fill="#0f1b2b" text-anchor="middle" letter-spacing="0.2" stroke="#0f1b2b" stroke-width="0.25">2531.33 B</text><text transform="translate(874.3,127.2) scale(0.94,1)" font-size="16.6" font-weight="normal" fill="#3b4450" text-anchor="middle" >Vol</text><text transform="translate(966.1,105.4) scale(0.962,1)" font-size="18.2" font-weight="bold" fill="#0f1b2b" text-anchor="middle" letter-spacing="0.2" stroke="#0f1b2b" stroke-width="0.25">25.62 M</text><text transform="translate(966.9,127.2) scale(0.94,1)" font-size="16.6" font-weight="normal" fill="#3b4450" text-anchor="middle" >Vol USD</text><text transform="translate(995,209.2) scale(0.893,1)" font-size="16.8" font-weight="bold" fill="#0f1b2b" text-anchor="end" letter-spacing="0.3" stroke="#0f1b2b" stroke-width="0.3">0.0<tspan font-size="8.8" dx="0.8">4</tspan><tspan dx="0.8">104</tspan></text><text transform="translate(995,275.5) scale(0.893,1)" font-size="16.8" font-weight="bold" fill="#0f1b2b" text-anchor="end" letter-spacing="0.3" stroke="#0f1b2b" stroke-width="0.3">0.0<tspan font-size="8.8" dx="0.8">4</tspan><tspan dx="0.8">102</tspan></text><text transform="translate(995,341.8) scale(0.893,1)" font-size="16.8" font-weight="bold" fill="#0f1b2b" text-anchor="end" letter-spacing="0.3" stroke="#0f1b2b" stroke-width="0.3">0.0<tspan font-size="8.8" dx="0.8">4</tspan><tspan dx="0.8">100</tspan></text><text transform="translate(995,408.1) scale(0.893,1)" font-size="16.8" font-weight="bold" fill="#0f1b2b" text-anchor="end" letter-spacing="0.3" stroke="#0f1b2b" stroke-width="0.3">0.0<tspan font-size="8.8" dx="0.8">5</tspan><tspan dx="0.8">980</tspan></text><text transform="translate(995,454.8) scale(0.975,1)" font-size="15.6" font-weight="bold" fill="#8c817d" text-anchor="end" letter-spacing="0.3">100,000,000,000</text><text transform="translate(29.6,498.8) scale(0.893,1)" font-size="16.8" font-weight="bold" fill="#0f1b2b" text-anchor="middle" letter-spacing="0.05" stroke="#0f1b2b" stroke-width="0.3">12:00</text><text transform="translate(287.6,498.8) scale(0.893,1)" font-size="16.8" font-weight="bold" fill="#0f1b2b" text-anchor="middle" letter-spacing="0.05" stroke="#0f1b2b" stroke-width="0.3">18:00</text><text transform="translate(545.1,498.8) scale(0.893,1)" font-size="16.8" font-weight="bold" fill="#0f1b2b" text-anchor="middle" letter-spacing="0.05" stroke="#0f1b2b" stroke-width="0.3">00:00</text><text transform="translate(803.0,498.8) scale(0.893,1)" font-size="16.8" font-weight="bold" fill="#0f1b2b" text-anchor="middle" letter-spacing="0.05" stroke="#0f1b2b" stroke-width="0.3">06:00</text></svg><div style="position:absolute;left:0;top:0;width:11.2px;height:629px;background:#a61b0b"></div>
</body></html>
